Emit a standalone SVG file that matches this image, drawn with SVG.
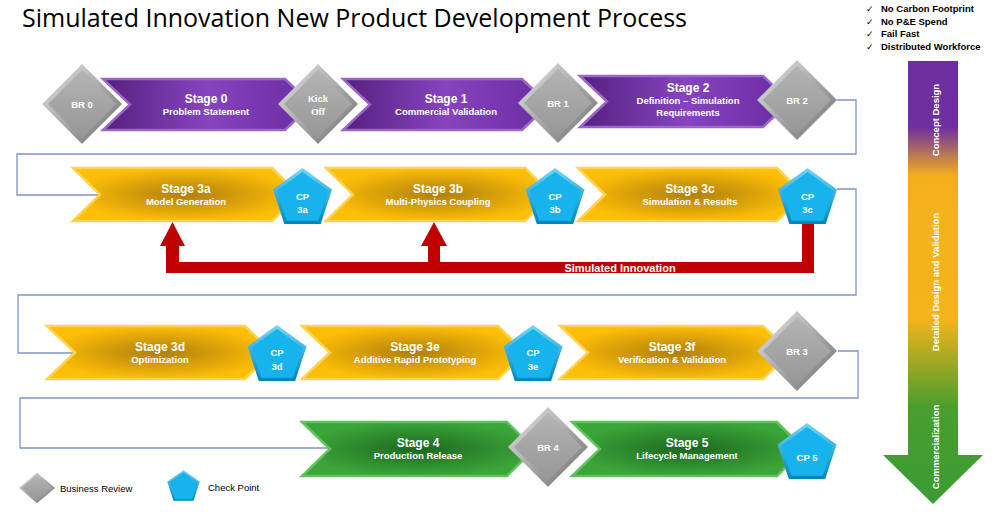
<svg xmlns="http://www.w3.org/2000/svg" xmlns:xlink="http://www.w3.org/1999/xlink" width="1000" height="513" viewBox="0 0 1000 513">
<style>
.title{font-family:"Open Sans","Liberation Sans",sans-serif;font-size:25px;fill:#000}
.st{font-family:"Liberation Sans",Arial,sans-serif;font-weight:bold;fill:#fff;text-anchor:middle}
.h{font-size:12px}
.s{font-size:9.5px}
.nd{font-family:"Liberation Sans",Arial,sans-serif;font-weight:bold;fill:#fff;text-anchor:middle;font-size:9.5px}
.leg{font-family:"Liberation Sans",Arial,sans-serif;font-size:9.5px;fill:#000}
.chk{font-family:"Liberation Sans",Arial,sans-serif;font-weight:bold;font-size:9.5px;fill:#000}
.ck{font-family:"DejaVu Sans",sans-serif;font-size:9px;fill:#000}
.conn{fill:none;stroke:#7F95C9;stroke-width:1.3}
.pur{fill:url(#gPur);stroke:#9A66C8;stroke-width:2.5;stroke-linejoin:miter}
.gold{fill:url(#gGold);stroke:#FFD34D;stroke-width:2.5;stroke-linejoin:miter}
.grn{fill:url(#gGrn);stroke:#5FC35B;stroke-width:2.5;stroke-linejoin:miter}
.arr{font-family:"Liberation Sans",Arial,sans-serif;font-weight:bold;fill:#fff;text-anchor:middle;font-size:9.5px}
</style>
<defs>
<linearGradient id="gPur" x1="0" y1="0" x2="1" y2="0">
<stop offset="0" stop-color="#55207F"/>
<stop offset="0.5" stop-color="#8644BE"/>
<stop offset="1" stop-color="#6A2BA2"/>
</linearGradient>
<radialGradient id="gGold" cx="0.5" cy="0.5" r="0.5">
<stop offset="0" stop-color="#B07F0A"/>
<stop offset="1" stop-color="#FDBE08"/>
</radialGradient>
<radialGradient id="gGrn" cx="0.5" cy="0.5" r="0.5">
<stop offset="0" stop-color="#1C6820"/>
<stop offset="1" stop-color="#3BA539"/>
</radialGradient>
<linearGradient id="gDiaO" x1="0" y1="0" x2="1" y2="1">
<stop offset="0" stop-color="#E6E6E6"/>
<stop offset="1" stop-color="#6E6E6E"/>
</linearGradient>
<linearGradient id="gDiaI" x1="0" y1="0" x2="0" y2="1">
<stop offset="0" stop-color="#B4B4B4"/>
<stop offset="1" stop-color="#969696"/>
</linearGradient>
<linearGradient id="gPenO" x1="0" y1="0" x2="0" y2="1">
<stop offset="0" stop-color="#6FD8FA"/>
<stop offset="1" stop-color="#0384B8"/>
</linearGradient>
<linearGradient id="gArrow" x1="0" y1="61" x2="0" y2="504" gradientUnits="userSpaceOnUse">
<stop offset="0" stop-color="#6D2E9E"/>
<stop offset="0.15" stop-color="#6F2F9E"/>
<stop offset="0.26" stop-color="#F3B01C"/>
<stop offset="0.58" stop-color="#F5B41A"/>
<stop offset="0.78" stop-color="#4A9E2E"/>
<stop offset="1" stop-color="#3A9B34"/>
</linearGradient>
<g id="dia">
<polygon points="0,-40 40,0 0,40 -40,0" fill="url(#gDiaO)"/>
<polygon points="0,-34 34,0 0,34 -34,0" fill="url(#gDiaI)"/>
</g>
<g id="pen">
<polygon points="0,-31 29.5,-9.6 18.2,25.1 -18.2,25.1 -29.5,-9.6" fill="url(#gPenO)"/>
<polygon points="0,-27 25.7,-8.3 15.9,21.8 -15.9,21.8 -25.7,-8.3" fill="#16B3EC"/>
</g>
</defs>

<rect width="1000" height="513" fill="#fff"/>

<text class="title" x="22" y="27">Simulated Innovation New Product Development Process</text>

<g id="checklist">
<text class="ck" x="866" y="12">✓</text><text class="chk" x="881" y="12">No Carbon Footprint</text>
<text class="ck" x="866" y="25">✓</text><text class="chk" x="881" y="25">No P&amp;E Spend</text>
<text class="ck" x="866" y="37">✓</text><text class="chk" x="881" y="37">Fail Fast</text>
<text class="ck" x="866" y="50">✓</text><text class="chk" x="881" y="50">Distributed Workforce</text>
</g>

<g id="phase-arrow">
<polygon points="908,61 958,61 958,455 983,455 933,504 883,455 908,455" fill="url(#gArrow)"/>
<text class="arr" transform="translate(938.5,120) rotate(-90)">Concept Design</text>
<text class="arr" transform="translate(938.5,282) rotate(-90)">Detailed Design and Validation</text>
<text class="arr" transform="translate(938.5,447) rotate(-90)">Commercialization</text>
</g>

<g id="connectors">
<polyline class="conn" points="837,100 856,100 856,154 17,154 17,195 100,195"/>
<polyline class="conn" points="837,189 856,189 856,295 18,295 18,353 75,353"/>
<polyline class="conn" points="838,351 858,351 858,398 20,398 20,448 330,448"/>
</g>

<g id="stage0"><polygon class="pur" points="103,79 285,79 312,104.5 285,130 103,130 130,104.5"/>
<text class="st h" x="206" y="103">Stage 0</text><text class="st s" x="206" y="115">Problem Statement</text></g>
<g id="stage1"><polygon class="pur" points="343,79 522,79 549,104.5 522,130 343,130 370,104.5"/>
<text class="st h" x="446" y="103">Stage 1</text><text class="st s" x="446" y="115">Commercial Validation</text></g>
<g id="stage2"><polygon class="pur" points="580,76 763,76 790,101.5 763,127 580,127 607,101.5"/>
<text class="st h" x="688" y="92">Stage 2</text><text class="st s" x="688" y="104">Definition – Simulation</text><text class="st s" x="688" y="116">Requirements</text></g>

<g id="stage3a"><polygon class="gold" points="73,168 272,168 299,194.5 272,221 73,221 100,194.5"/>
<text class="st h" x="186" y="193">Stage 3a</text><text class="st s" x="186" y="205">Model Generation</text></g>
<g id="stage3b"><polygon class="gold" points="326,168 525,168 552,194.5 525,221 326,221 353,194.5"/>
<text class="st h" x="438" y="193">Stage 3b</text><text class="st s" x="438" y="205">Multi-Physics Coupling</text></g>
<g id="stage3c"><polygon class="gold" points="578,168 777,168 804,194.5 777,221 578,221 605,194.5"/>
<text class="st h" x="690" y="193">Stage 3c</text><text class="st s" x="690" y="205">Simulation &amp; Results</text></g>

<g id="stage3d"><polygon class="gold" points="47,326 245,326 272,352.5 245,379 47,379 75,352.5"/>
<text class="st h" x="160" y="351">Stage 3d</text><text class="st s" x="160" y="363">Optimization</text></g>
<g id="stage3e"><polygon class="gold" points="302,326 498,326 525,352.5 498,379 302,379 330,352.5"/>
<text class="st h" x="415" y="351">Stage 3e</text><text class="st s" x="415" y="363">Additive Rapid Prototyping</text></g>
<g id="stage3f"><polygon class="gold" points="560,326 763,326 790,352.5 763,379 560,379 588,352.5"/>
<text class="st h" x="672" y="351">Stage 3f</text><text class="st s" x="672" y="363">Verification &amp; Validation</text></g>

<g id="stage4"><polygon class="grn" points="302,422 507,422 534,449 507,476 302,476 330,449"/>
<text class="st h" x="418" y="447">Stage 4</text><text class="st s" x="418" y="459">Production Release</text></g>
<g id="stage5"><polygon class="grn" points="572,422 777,422 804,449 777,476 572,476 600,449"/>
<text class="st h" x="687" y="447">Stage 5</text><text class="st s" x="687" y="459">Lifecycle Management</text></g>

<g id="simulated-innovation">
<path d="M166,273 L166,246 L160,246 L172.5,222 L185,246 L179,246 L179,262 L428,262 L428,246 L421,246 L434,222 L447,246 L440,246 L440,262 L802,262 L802,222 L814,222 L814,273 Z" fill="#C00000"/>
<text class="st" x="620" y="272" font-size="11">Simulated Innovation</text>
</g>

<g id="br0"><use xlink:href="#dia" href="#dia" transform="translate(82,104)"/><text class="nd" x="82" y="108">BR 0</text></g>
<g id="kickoff"><use xlink:href="#dia" href="#dia" transform="translate(318,104)"/><text class="nd" x="318" y="102">Kick</text><text class="nd" x="318" y="115">Off</text></g>
<g id="br1"><use xlink:href="#dia" href="#dia" transform="translate(558,103)"/><text class="nd" x="558" y="107">BR 1</text></g>
<g id="br2"><use xlink:href="#dia" href="#dia" transform="translate(797,100)"/><text class="nd" x="797" y="104">BR 2</text></g>
<g id="br3"><use xlink:href="#dia" href="#dia" transform="translate(797,351)"/><text class="nd" x="797" y="355">BR 3</text></g>
<g id="br4"><use xlink:href="#dia" href="#dia" transform="translate(548,447)"/><text class="nd" x="548" y="451">BR 4</text></g>

<g id="cp3a"><use xlink:href="#pen" href="#pen" transform="translate(302.5,199)"/><text class="nd" x="302.5" y="200">CP</text><text class="nd" x="302.5" y="213">3a</text></g>
<g id="cp3b"><use xlink:href="#pen" href="#pen" transform="translate(555,199)"/><text class="nd" x="555" y="200">CP</text><text class="nd" x="555" y="213">3b</text></g>
<g id="cp3c"><use xlink:href="#pen" href="#pen" transform="translate(807.5,199)"/><text class="nd" x="807.5" y="200">CP</text><text class="nd" x="807.5" y="213">3c</text></g>
<g id="cp3d"><use xlink:href="#pen" href="#pen" transform="translate(277,356)"/><text class="nd" x="277" y="356">CP</text><text class="nd" x="277" y="370">3d</text></g>
<g id="cp3e"><use xlink:href="#pen" href="#pen" transform="translate(533,356)"/><text class="nd" x="533" y="356">CP</text><text class="nd" x="533" y="370">3e</text></g>
<g id="cp5"><use xlink:href="#pen" href="#pen" transform="translate(807,454)"/><text class="nd" x="807" y="461">CP 5</text></g>

<g id="legend">
<g transform="translate(37,488) scale(0.45,0.38)"><use xlink:href="#dia" href="#dia"/></g>
<text class="leg" x="60" y="492">Business Review</text>
<g transform="translate(183.5,487) scale(0.55)"><use xlink:href="#pen" href="#pen"/></g>
<text class="leg" x="208" y="491">Check Point</text>
</g>
</svg>
